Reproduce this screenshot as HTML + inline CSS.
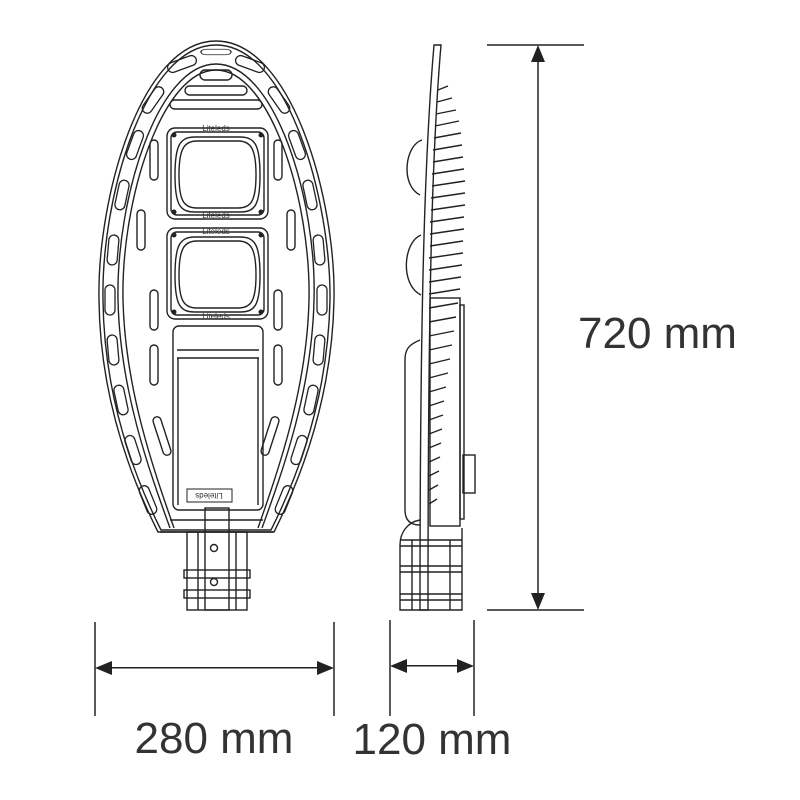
<!DOCTYPE html>
<html><head><meta charset="utf-8"><style>
html,body{margin:0;padding:0;background:#fff;}
svg{display:block}
text{font-family:"Liberation Sans",sans-serif;fill:#333;}
</style></head><body>
<svg width="800" height="800" viewBox="0 0 800 800" xmlns="http://www.w3.org/2000/svg">
<defs>
<g id="slot"><rect x="-5" y="-15" width="10" height="30" rx="5" fill="none" stroke="#222" stroke-width="1.3"/></g>
</defs>
<g fill="none" stroke="#222" stroke-width="1.4">
<path d="M216,41 C292,41 336,200 334,300 C332,400 300,480 274,532 L158,532 C132,480 100,400 99,300 C97,200 140,41 216,41 Z"/>
<path d="M216,45 C288,45 331,200 330,300 C328,398 297,478 271,530 L161,530 C135,478 104,398 103,300 C101,200 144,45 216,45 Z"/>
<path d="M216,64 C275,64 317,200 314,300 C312,390 283,470 262,528 M170,528 C149,470 120,390 118,300 C116,200 157,64 216,64"/>
<path d="M216,70 C270,70 311,200 309,300 C307,388 279,468 258,528 M174,528 C153,468 125,388 123,300 C121,200 162,70 216,70"/>
<g>
<use href="#slot" transform="translate(216,52) rotate(90) scale(0.55,1)"/>
<use href="#slot" transform="translate(182,64) rotate(70)"/>
<use href="#slot" transform="translate(250,64) rotate(-70)"/>
<use href="#slot" transform="translate(153,100) rotate(35)"/>
<use href="#slot" transform="translate(279,100) rotate(-35)"/>
<use href="#slot" transform="translate(135,145) rotate(20)"/>
<use href="#slot" transform="translate(297,145) rotate(-20)"/>
<use href="#slot" transform="translate(122,195) rotate(12)"/>
<use href="#slot" transform="translate(310,195) rotate(-12)"/>
<use href="#slot" transform="translate(113,250) rotate(5)"/>
<use href="#slot" transform="translate(319,250) rotate(-5)"/>
<use href="#slot" transform="translate(110,300)"/>
<use href="#slot" transform="translate(322,300)"/>
<use href="#slot" transform="translate(113,350) rotate(-5)"/>
<use href="#slot" transform="translate(319,350) rotate(5)"/>
<use href="#slot" transform="translate(121,400) rotate(-12)"/>
<use href="#slot" transform="translate(311,400) rotate(12)"/>
<use href="#slot" transform="translate(133,450) rotate(-18)"/>
<use href="#slot" transform="translate(299,450) rotate(18)"/>
<use href="#slot" transform="translate(148,500) rotate(-22)"/>
<use href="#slot" transform="translate(284,500) rotate(22)"/>
</g>
<rect x="200" y="70" width="32" height="10" rx="5"/>
<rect x="185" y="86" width="62" height="9" rx="4.5"/>
<rect x="170" y="100" width="92" height="9" rx="4.5"/>
<rect x="150" y="140" width="8" height="40" rx="4"/><rect x="274" y="140" width="8" height="40" rx="4"/>
<rect x="137" y="210" width="8" height="40" rx="4"/><rect x="287" y="210" width="8" height="40" rx="4"/>
<rect x="150" y="290" width="8" height="40" rx="4"/><rect x="274" y="290" width="8" height="40" rx="4"/>
<rect x="150" y="345" width="8" height="40" rx="4"/><rect x="274" y="345" width="8" height="40" rx="4"/>
<rect x="158" y="416" width="8" height="40" rx="4" transform="rotate(-18 162 436)"/><rect x="266" y="416" width="8" height="40" rx="4" transform="rotate(18 270 436)"/>
<rect x="167" y="128" width="101" height="91" rx="8"/>
<rect x="171" y="132" width="93" height="83" rx="6"/>
<path d="M195,137 C180,137 175,145 175,175 C175,205 180,212 195,212 L240,212 C255,212 260,205 260,175 C260,145 255,137 240,137 Z"/>
<path d="M197,141 C184,141 179,149 179,175 C179,201 184,208 197,208 L238,208 C251,208 256,201 256,175 C256,149 251,141 238,141 Z"/>
<rect x="167" y="228" width="101" height="91" rx="8"/>
<rect x="171" y="232" width="93" height="83" rx="6"/>
<path d="M195,237 C180,237 175,245 175,275 C175,305 180,312 195,312 L240,312 C255,312 260,305 260,275 C260,245 255,237 240,237 Z"/>
<path d="M197,241 C184,241 179,249 179,275 C179,301 184,308 197,308 L238,308 C251,308 256,301 256,275 C256,249 251,241 238,241 Z"/>
<rect x="173" y="326" width="90" height="184" rx="6"/>
<line x1="177" y1="350" x2="259" y2="350"/><line x1="177" y1="358" x2="259" y2="358"/>
<line x1="178" y1="358" x2="178" y2="505"/><line x1="258" y1="358" x2="258" y2="505"/>
<rect x="187" y="489" width="45" height="13" stroke-width="1"/>
<line x1="170" y1="520" x2="263" y2="520"/><line x1="160" y1="532" x2="273" y2="532"/>
<rect x="187" y="532" width="60" height="78"/>
<rect x="184" y="570" width="66" height="8"/><rect x="184" y="590" width="66" height="8"/>
<rect x="205" y="508" width="24" height="102"/>
<line x1="198" y1="532" x2="198" y2="610"/><line x1="236" y1="532" x2="236" y2="610"/>
<circle cx="214" cy="548" r="3.5"/><circle cx="214" cy="582" r="3.5"/>
<path d="M434,45 C425,150 420,300 420,610 L428,610 C428,300 432,150 441,45 Z"/>
<path d="M422,140 C405,145 400,185 420,195"/>
<path d="M421,235 C403,242 400,285 421,295"/>
<path d="M420,340 C408,345 405,350 405,360 L405,510 C405,520 410,525 420,525"/>
<rect x="430" y="298" width="30" height="228"/>
<rect x="460" y="305" width="4" height="214"/>
<rect x="463" y="455" width="12" height="38"/>
<path d="M420,520 C408,522 400,532 400,545 L400,610 L462,610 L462,528"/>
<line x1="400" y1="540" x2="462" y2="540"/><line x1="400" y1="546" x2="462" y2="546"/>
<line x1="400" y1="566" x2="462" y2="566"/><line x1="400" y1="572" x2="462" y2="572"/>
<line x1="400" y1="594" x2="462" y2="594"/><line x1="400" y1="600" x2="462" y2="600"/>
<line x1="412" y1="540" x2="412" y2="610"/><line x1="450" y1="540" x2="450" y2="610"/>
</g>
<g fill="#222">
<circle cx="174" cy="135" r="2.5"/><circle cx="261" cy="135" r="2.5"/><circle cx="174" cy="212" r="2.5"/><circle cx="261" cy="212" r="2.5"/>
<circle cx="174" cy="235" r="2.5"/><circle cx="261" cy="235" r="2.5"/><circle cx="174" cy="312" r="2.5"/><circle cx="261" cy="312" r="2.5"/>
</g>
<g font-size="8" text-anchor="middle" style="fill:#444">
<text x="216" y="131">Liteleds</text><text x="216" y="218">Liteleds</text>
<text x="216" y="234">Liteleds</text><text x="216" y="319">Liteleds</text>
<text x="209" y="499" transform="rotate(180 209 496)">Liteleds</text>
</g>
<g stroke="#222" stroke-width="1.4">
<line x1="438" y1="90" x2="448" y2="86"/><line x1="437" y1="102" x2="452" y2="98"/>
<line x1="436" y1="114" x2="456" y2="110"/><line x1="435" y1="126" x2="459" y2="121"/>
<line x1="434" y1="138" x2="461" y2="133"/><line x1="433" y1="150" x2="462" y2="145"/>
<line x1="433" y1="162" x2="463" y2="157"/><line x1="432" y1="174" x2="464" y2="169"/>
<line x1="432" y1="186" x2="465" y2="181"/><line x1="431" y1="198" x2="465" y2="193"/>
<line x1="431" y1="210" x2="465" y2="205"/><line x1="430" y1="222" x2="464" y2="217"/>
<line x1="430" y1="234" x2="464" y2="229"/><line x1="430" y1="246" x2="463" y2="241"/>
<line x1="429" y1="258" x2="463" y2="253"/><line x1="429" y1="270" x2="462" y2="265"/>
<line x1="429" y1="282" x2="461" y2="277"/><line x1="429" y1="294" x2="460" y2="289"/>
<line x1="429" y1="308" x2="458" y2="303"/><line x1="429" y1="322" x2="456" y2="317"/>
<line x1="429" y1="336" x2="454" y2="331"/><line x1="429" y1="350" x2="452" y2="345"/>
<line x1="429" y1="364" x2="450" y2="359"/><line x1="429" y1="378" x2="448" y2="373"/>
<line x1="429" y1="392" x2="446" y2="387"/><line x1="429" y1="406" x2="444" y2="401"/>
<line x1="429" y1="420" x2="443" y2="415"/><line x1="429" y1="434" x2="442" y2="429"/>
<line x1="429" y1="448" x2="441" y2="443"/><line x1="429" y1="462" x2="440" y2="457"/>
<line x1="429" y1="476" x2="439" y2="471"/><line x1="429" y1="490" x2="438" y2="485"/>
<line x1="429" y1="504" x2="437" y2="499"/>
</g>
<g stroke="#222" stroke-width="1.5" fill="none">
<line x1="487" y1="45" x2="584" y2="45"/><line x1="487" y1="610" x2="584" y2="610"/>
<line x1="538" y1="60" x2="538" y2="595"/>
<line x1="95" y1="622" x2="95" y2="716"/><line x1="334" y1="622" x2="334" y2="716"/>
<line x1="390" y1="620" x2="390" y2="716"/><line x1="474" y1="620" x2="474" y2="716"/>
</g>
<g fill="#222">
<path d="M538,45 L531,62 L545,62 Z"/><path d="M538,610 L531,593 L545,593 Z"/>
<rect x="109" y="667" width="211" height="1.5"/>
<path d="M95,668 L112,661 L112,675 Z"/><path d="M334,668 L317,661 L317,675 Z"/>
<rect x="404" y="665" width="56" height="1.5"/>
<path d="M390,666 L407,659 L407,673 Z"/><path d="M474,666 L457,659 L457,673 Z"/>
</g>
<text x="578" y="348" font-size="44">720 mm</text>
<text x="214" y="753" font-size="44" text-anchor="middle">280 mm</text>
<text x="432" y="754" font-size="44" text-anchor="middle">120 mm</text>
</svg>
</body></html>
